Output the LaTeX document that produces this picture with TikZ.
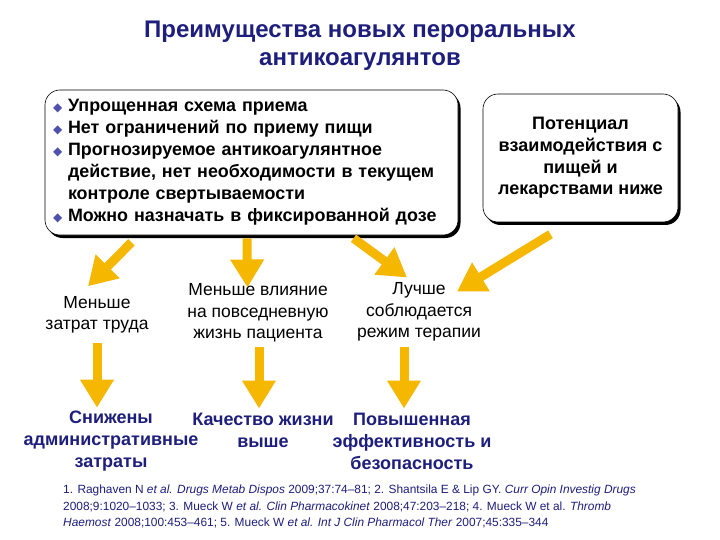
\documentclass[tikz,border=0pt]{standalone}
\usepackage{fontspec}
\setmainfont{Liberation Sans}
\newfontfamily\symbolfont{DejaVu Sans}
\usepackage{xcolor}
\usetikzlibrary{positioning, calc, arrows.meta, shadows}

\definecolor{navy}{RGB}{30,30,125}
\definecolor{gold}{RGB}{245,183,0}
\definecolor{bulletblue}{RGB}{80,80,175}

\newcommand{\dia}{\makebox[15pt][l]{\raisebox{0.5pt}{\symbolfont\fontsize{12}{12}\selectfont\color{bulletblue}◆}}}

\begin{document}
\begin{tikzpicture}[x=1pt, y=-1pt,
  panel/.style={draw=black, fill=white, line width=0.6pt, rounded corners=15pt,
    drop shadow={fill=black, opacity=1, shadow xshift=2.5pt, shadow yshift=-3pt}},
  effect/.style={align=center, inner sep=0pt, font=\fontsize{17.5}{21.5}\selectfont},
  result/.style={align=center, inner sep=0pt, text=navy, font=\bfseries\fontsize{18}{22}\selectfont},
  flow/.style={gold, line width=9pt, -{Triangle[length=28pt, width=32pt]}}]
\fill[white] (0,0) rectangle (720,540);
\useasboundingbox (0,0) rectangle (720,540);

% title
\node[text=navy, align=center, font=\bfseries\fontsize{24}{28}\selectfont] (title) at (360,46)
  {Преимущества новых пероральных\\антикоагулянтов};

% boxes
\node[panel, minimum width=413, minimum height=145, text width=397, inner sep=0pt,
  align=left, font=\bfseries\fontsize{17.9}{22}\selectfont] (benefits) at (251.5,162.5)
  {\dia Упрощенная схема приема\\
   \dia Нет ограничений по приему пищи\\
   \dia Прогнозируемое антикоагулянтное\\
   \hspace*{15pt}действие, нет необходимости в текущем\\
   \hspace*{15pt}контроле свертываемости\\
   \dia Можно назначать в фиксированной дозе};
\node[panel, minimum width=195, minimum height=128, align=center,
  font=\bfseries\fontsize{18}{21.7}\selectfont] (interact) at (580.5,158)
  {Потенциал\\взаимодействия с\\пищей и\\лекарствами ниже};

% effects
\node[effect] (labour) at (97,315) {Меньше\\затрат труда};
\node[effect] (daily) at (258,313) {Меньше влияние\\на повседневную\\жизнь пациента};
\node[effect] (adherence) at (419,312) {Лучше\\соблюдается\\режим терапии};

% results
\node[result] (costs) at (111,441) {Снижены\\административные\\затраты};
\node[result] (quality) at (263,430) {Качество жизни\\выше};
\node[result] (safety) at (412,441) {Повышенная\\эффективность и\\безопасность};

% arrows
\draw[flow] ($(benefits.south)+(-120,7)$) -- ($(labour.north)+(-9,-10)$);
\draw[flow] ($(benefits.south)+(-4.5,3)$) -- ($(daily.north)+(-10.5,4)$);
\draw[flow] ($(benefits.south)+(102,3)$) -- ($(adherence.north)+(-12,-5)$);
\draw[flow] ($(interact.south)+(-30,12)$) -- ($(adherence.north east)+(-24,9)$);
\draw[flow] ($(labour.south)+(0,9)$) -- ($(labour.south |- costs.north)+(0,-3)$);
\draw[flow] ($(daily.south)+(1,5)$) -- ($(daily.south |- quality.north)+(1,-4)$);
\draw[flow] ($(adherence.south)+(-15,5)$) -- ($(adherence.south |- safety.north)+(-15,-4)$);

% references
\node[anchor=north west, align=left, text=navy, inner sep=0pt,
  font=\fontsize{11.9}{16.5}\selectfont] (refs) at (63,485)
  {1. Raghaven N \textit{et al. Drugs Metab Dispos} 2009;37:74–81; 2. Shantsila E \& Lip GY. \textit{Curr Opin Investig Drugs}\\
   2008;9:1020–1033; 3. Mueck W \textit{et al. Clin Pharmacokinet} 2008;47:203–218; 4. Mueck W et al. \textit{Thromb}\\
   \textit{Haemost} 2008;100:453–461; 5. Mueck W \textit{et al. Int J Clin Pharmacol Ther} 2007;45:335–344};
\end{tikzpicture}
\end{document}
